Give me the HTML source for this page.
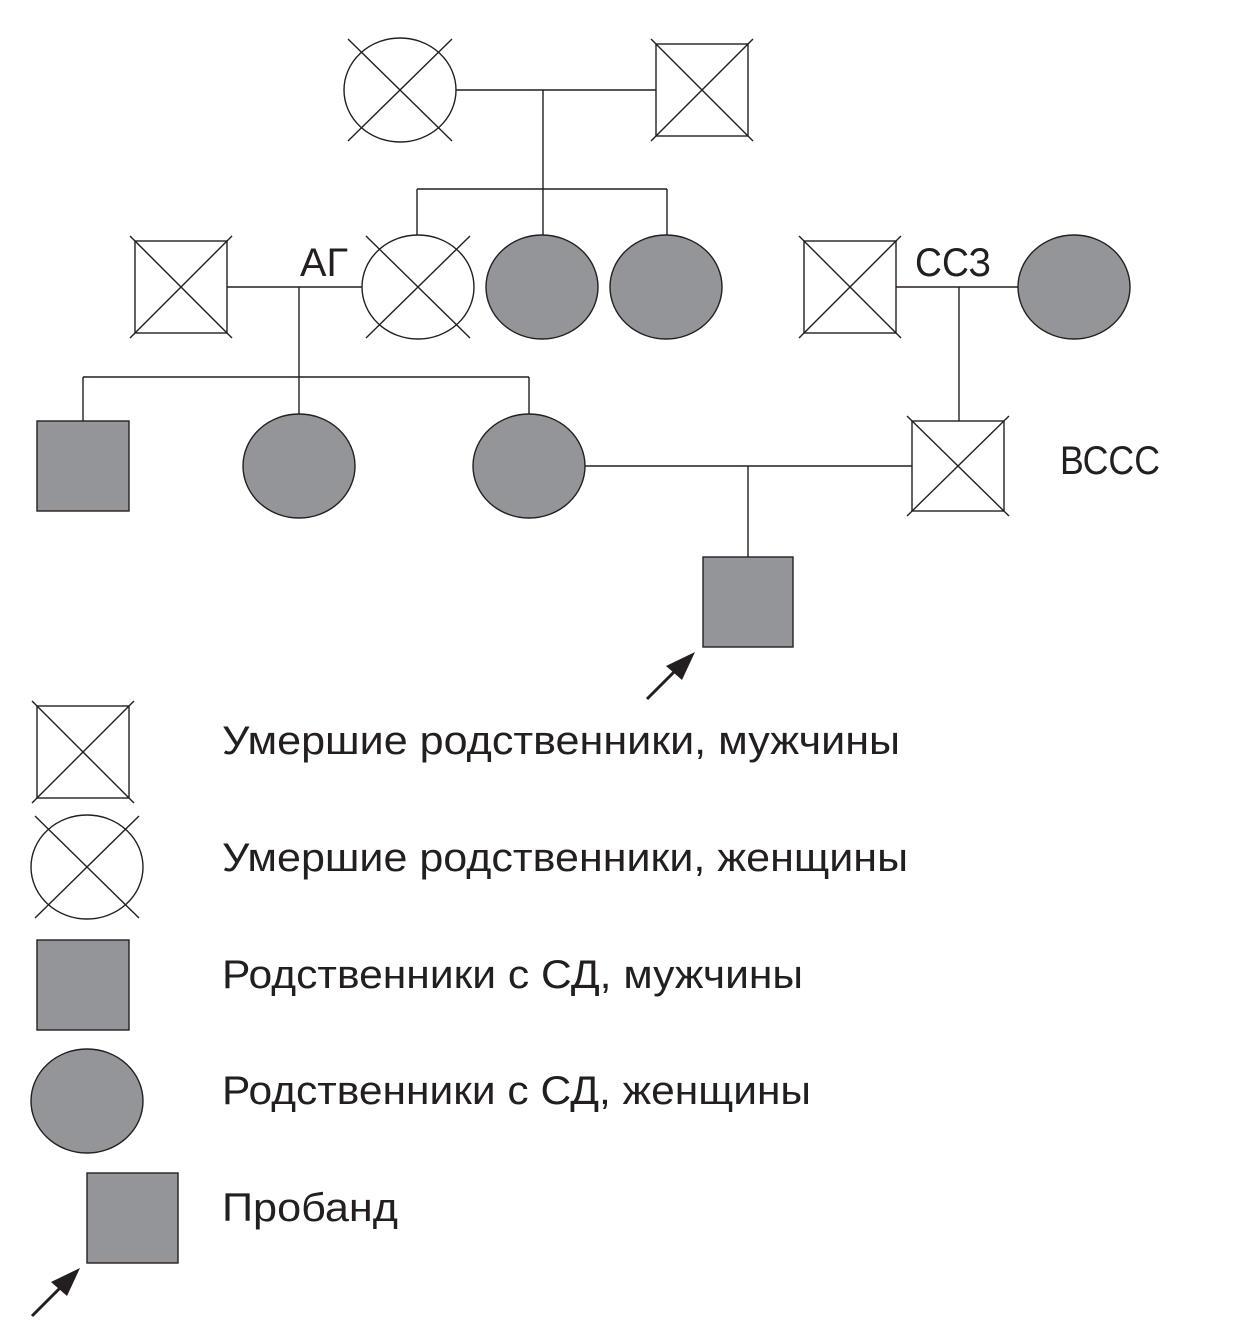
<!DOCTYPE html>
<html><head><meta charset="utf-8"><style>body{margin:0;background:#fff}svg{display:block}</style></head><body>
<svg width="1240" height="1333" viewBox="0 0 1240 1333" xmlns="http://www.w3.org/2000/svg" font-family="Liberation Sans, DejaVu Sans, sans-serif" font-size="40" fill="#231f20">
<g stroke="#231f20" stroke-width="1.4" fill="none">
<ellipse cx="400" cy="90" rx="56" ry="52" fill="#fff"/>
<line x1="348" y1="39" x2="452" y2="141"/><line x1="452" y1="39" x2="348" y2="141"/>
<rect x="656" y="44" width="92" height="92" fill="#fff"/>
<line x1="651" y1="39" x2="753" y2="141"/><line x1="753" y1="39" x2="651" y2="141"/>
<line x1="456" y1="90" x2="656" y2="90"/>
<line x1="543" y1="90" x2="543" y2="189"/>
<line x1="417" y1="189" x2="667" y2="189"/>
<line x1="417" y1="189" x2="417" y2="235"/><line x1="543" y1="189" x2="543" y2="235"/><line x1="667" y1="189" x2="667" y2="235"/>
<rect x="135" y="241" width="92" height="92" fill="#fff"/>
<line x1="130" y1="236" x2="232" y2="338"/><line x1="232" y1="236" x2="130" y2="338"/>
<line x1="227" y1="287" x2="362" y2="287"/>
<ellipse cx="418" cy="287" rx="56" ry="52" fill="#fff"/>
<line x1="366" y1="236" x2="470" y2="338"/><line x1="470" y1="236" x2="366" y2="338"/>
<ellipse cx="542" cy="287" rx="56" ry="52" fill="#939598"/>
<ellipse cx="666" cy="287" rx="56" ry="52" fill="#939598"/>
<line x1="299" y1="287" x2="299" y2="414"/>
<line x1="83" y1="377" x2="529" y2="377"/>
<line x1="83" y1="377" x2="83" y2="421"/><line x1="529" y1="377" x2="529" y2="414"/>
<rect x="804" y="241" width="92" height="92" fill="#fff"/>
<line x1="799" y1="236" x2="901" y2="338"/><line x1="901" y1="236" x2="799" y2="338"/>
<line x1="896" y1="287" x2="1019" y2="287"/>
<ellipse cx="1074" cy="287" rx="56" ry="52" fill="#939598"/>
<line x1="959" y1="287" x2="959" y2="421"/>
<rect x="37" y="421" width="92" height="90" fill="#939598"/>
<ellipse cx="299" cy="466" rx="56" ry="52" fill="#939598"/>
<ellipse cx="529" cy="466" rx="56" ry="52" fill="#939598"/>
<rect x="912" y="421" width="92" height="90" fill="#fff"/>
<line x1="907" y1="416" x2="1009" y2="516"/><line x1="1009" y1="416" x2="907" y2="516"/>
<line x1="585" y1="466" x2="912" y2="466"/>
<line x1="748" y1="466" x2="748" y2="557"/>
<rect x="703" y="557" width="90" height="90" fill="#939598"/>
<line x1="647" y1="699" x2="676" y2="670" stroke-width="3"/>
<rect x="37" y="706" width="92" height="92" fill="#fff"/>
<line x1="32" y1="701" x2="134" y2="803"/><line x1="134" y1="701" x2="32" y2="803"/>
<ellipse cx="87" cy="867" rx="56" ry="52" fill="#fff"/>
<line x1="35" y1="816" x2="139" y2="918"/><line x1="139" y1="816" x2="35" y2="918"/>
<rect x="37" y="940" width="92" height="90" fill="#939598"/>
<ellipse cx="87" cy="1101" rx="56" ry="52" fill="#939598"/>
<rect x="87" y="1173" width="91" height="90" fill="#939598"/>
<line x1="32" y1="1316" x2="61" y2="1287" stroke-width="3"/>
</g>
<polygon points="695,652 666,666 682,680" fill="#231f20"/>
<polygon points="80,1268 51,1282 67,1296" fill="#231f20"/>
<text x="300" y="276" textLength="48" lengthAdjust="spacingAndGlyphs">АГ</text>
<text x="915" y="276" textLength="76" lengthAdjust="spacingAndGlyphs">ССЗ</text>
<text x="1060" y="474" textLength="100" lengthAdjust="spacingAndGlyphs">ВССС</text>
<text x="222" y="754" textLength="678" lengthAdjust="spacingAndGlyphs">Умершие родственники, мужчины</text>
<text x="222" y="871" textLength="686" lengthAdjust="spacingAndGlyphs">Умершие родственники, женщины</text>
<text x="222" y="988" textLength="581" lengthAdjust="spacingAndGlyphs">Родственники с СД, мужчины</text>
<text x="222" y="1104" textLength="589" lengthAdjust="spacingAndGlyphs">Родственники с СД, женщины</text>
<text x="222" y="1221" textLength="176" lengthAdjust="spacingAndGlyphs">Пробанд</text>
</svg>
</body></html>
